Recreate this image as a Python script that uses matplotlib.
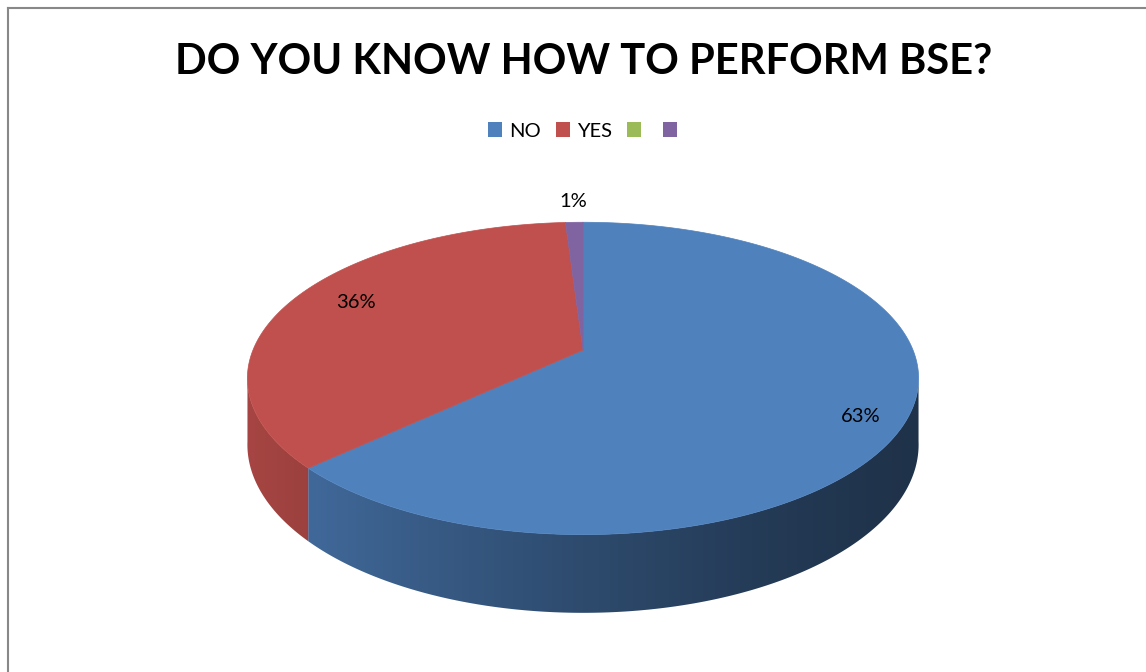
import numpy as np
import matplotlib
matplotlib.use('Agg')
import matplotlib.pyplot as plt
from matplotlib.patches import Polygon, Patch
from matplotlib.lines import Line2D

# ====== Data ======
labels = ['NO', 'YES', '', '']
values = [63, 36, 0, 1]
colors = ['#4F81BD', '#C0504D', '#9BBB59', '#8064A2']
title = 'DO YOU KNOW HOW TO PERFORM BSE?'

# ====== Pie geometry (pixel space of the figure) ======
W, H = 1146, 672
cx, cy = 583, 350        # centre of top face
R, Ry = 330, 151         # horizontal / vertical radii
k = 0.182                # perspective strength
depth = 64               # thickness of the pie

plt.rcParams['font.family'] = ['Lato', 'DejaVu Sans']

fig = plt.figure(figsize=(W / 100, H / 100), dpi=100)
ax = fig.add_axes([0, 0, 1, 1])
ax.set_xlim(0, W)
ax.set_ylim(H, 0)
ax.axis('off')


def project(theta, r=1.0, dz=0.0):
    """theta: radians clockwise from 12 o'clock."""
    u = r * np.sin(theta)
    v = r * np.cos(theta)
    s = 1.0 / (1.0 + k * v)
    return cx + R * u * s, cy - Ry * v * s + dz * s


def shade(x):
    t = np.clip((cx + R - x) / (2 * R), 0, 1)
    return 0.39 + 0.47 * t ** 1.3


total = float(sum(values))
fracs = np.array(values) / total
starts = np.concatenate([[0], np.cumsum(fracs)[:-1]]) * 2 * np.pi
ends = np.cumsum(fracs) * 2 * np.pi

# visible part of the side wall (between the two silhouette points)
vis0 = np.arccos(-k) - 0.02
vis1 = 2 * np.pi - np.arccos(-k) + 0.02

# ---- side walls with left-to-right shading ----
gx = np.linspace(cx - R * 1.05, cx + R * 1.05, 600)
for i, (a0, a1) in enumerate(zip(starts, ends)):
    lo, hi = max(a0, vis0), min(a1, vis1)
    if hi <= lo:
        continue
    th = np.linspace(lo, hi, 300)
    xt, yt = project(th)
    xb, yb = project(th[::-1], dz=depth)
    pts = list(zip(xt, yt)) + list(zip(xb, yb))
    poly = Polygon(pts, closed=True, facecolor='none', edgecolor='none')
    ax.add_patch(poly)
    base = np.array(matplotlib.colors.to_rgb(colors[i]))
    grad = np.clip(shade(gx)[:, None] * base[None, :], 0, 1)[None, :, :]
    im = ax.imshow(grad, extent=(gx[0], gx[-1], cy + Ry * 1.4 + depth * 1.3, cy - Ry * 0.3),
                   aspect='auto', interpolation='bilinear', zorder=1)
    im.set_clip_path(poly)
ax.set_xlim(0, W)
ax.set_ylim(H, 0)

# ---- top faces ----
for i, (a0, a1) in enumerate(zip(starts, ends)):
    if a1 - a0 <= 0:
        continue
    th = np.linspace(a0, a1, max(3, int(np.degrees(a1 - a0) * 2)))
    xs, ys = project(th)
    pts = [(cx, cy)] + list(zip(xs, ys))
    ax.add_patch(Polygon(pts, closed=True, facecolor=colors[i],
                         edgecolor=colors[i], linewidth=0.5, zorder=2))

# ---- data labels ----
for i, (a0, a1) in enumerate(zip(starts, ends)):
    if values[i] <= 0:
        continue
    mid = 0.5 * (a0 + a1)
    if fracs[i] < 0.05:
        r, dy = 1.2, 0
    elif np.cos(mid) < 0:
        r, dy = 0.86, 12     # front half: label sits a bit lower
    else:
        r, dy = 0.78, -6
    lx, ly = project(mid, r=r)
    ax.text(lx, ly + dy, f'{values[i] / total:.0%}', ha='center', va='center',
            fontsize=14.5, color='black', zorder=3)

# ---- title & legend ----
fig.text(584 / W, 1 - 62 / H, title, ha='center', va='center',
         fontsize=30, fontweight='bold', color='black')

handles = [Patch(facecolor=c, edgecolor='none') for c in colors]
fig.legend(handles, labels, loc='center', bbox_to_anchor=(586 / W, 1 - 131 / H),
           ncol=4, frameon=False, fontsize=14.5, handlelength=0.7,
           handleheight=0.7, handletextpad=0.35, columnspacing=0.75)

# ---- chart border ----
ax.add_line(Line2D([7.5, 7.5], [8, H], color='#888888', linewidth=1.5))
ax.add_line(Line2D([7.5, W], [8, 8], color='#888888', linewidth=1.5))

fig.savefig('out.png', dpi=100)
